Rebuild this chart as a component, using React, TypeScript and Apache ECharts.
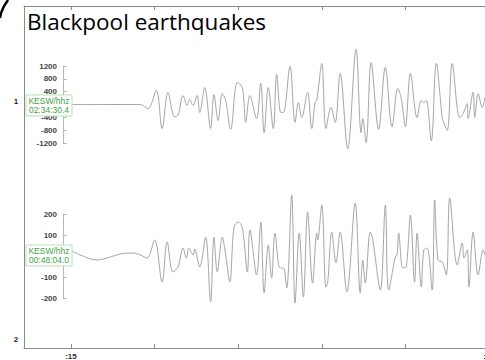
import React, { useEffect, useRef } from "react";
import * as echarts from "echarts";

// Trace 1 (KESW/hhz 02:34:30.4): time in seconds, amplitude
const t1 = [15.01,15.35,15.83,15.92,16.02,16.09,16.16,16.24,16.28,16.34,16.39,16.42,16.46,16.51,16.54,16.60,16.67,16.71,16.76,16.81,16.85,16.91,16.99,17.05,17.09,17.14,17.22,17.27,17.31,17.36,17.42,17.46,17.51,17.54,17.62,17.68,17.72,17.76,17.83,17.88,17.92,17.94,18.00,18.05,18.11,18.16,18.22,18.31,18.41,18.47,18.49,18.53,18.59,18.68,18.76,18.84,18.91,18.95,19.00,19.06,19.14,19.19,19.22,19.25,19.31,19.37,19.44,19.45,19.50,19.56,19.65,19.69,19.74,19.75,19.81,19.83,19.87,19.92,19.95];
const v1 = [0,0,0,-130,440,-750,380,-380,-340,280,-30,160,-30,280,-250,530,-750,310,-500,340,130,-780,690,530,-560,280,-440,660,-880,530,-750,940,-250,-250,1190,-560,60,-410,380,-750,60,130,1280,-750,-90,-560,970,-1380,1720,-880,-440,-1190,1310,-780,1160,-690,500,190,-690,970,-410,130,60,130,-1130,1280,-410,-500,-810,1280,-410,-280,30,-440,380,-410,340,-90,220];

// Trace 2 (KESW/hhz 00:48:04.0)
const t2 = [15.01,15.11,15.31,15.47,15.59,15.74,15.83,15.91,16.00,16.09,16.15,16.22,16.28,16.34,16.38,16.41,16.46,16.48,16.54,16.61,16.67,16.71,16.75,16.81,16.85,16.90,16.95,17.00,17.05,17.11,17.14,17.22,17.27,17.31,17.36,17.40,17.44,17.50,17.54,17.58,17.64,17.68,17.73,17.78,17.83,17.89,17.94,17.95,18.00,18.05,18.07,18.12,18.17,18.22,18.30,18.40,18.46,18.49,18.52,18.58,18.61,18.70,18.76,18.80,18.88,18.90,18.92,18.97,19.01,19.06,19.11,19.14,19.19,19.22,19.26,19.32,19.35,19.39,19.44,19.49,19.53,19.62,19.68,19.70,19.74,19.76,19.81,19.87,19.93,19.95];
const v2 = [24,5,-19,-5,10,14,5,-10,76,-124,67,-76,-52,38,-10,38,5,33,-52,90,-219,90,-76,90,5,-124,138,162,133,-76,124,-90,162,-176,52,-105,109,-57,-57,-152,290,-224,109,-195,209,-129,109,76,243,-148,-129,114,-33,114,-171,252,-176,-19,-129,114,76,-162,243,-162,-5,5,109,-57,-52,195,-124,109,-148,29,38,-162,267,-19,-29,-90,276,-43,62,-10,29,-148,114,-90,29,5];

const timeTicks = [15, 16, 17, 18, 19, 20];
const timeLabels = [15, 20];
const ampTicks1 = [-1200, -800, -400, 400, 800, 1200];
const ampTicks2 = [-200, -100, 100, 200];
const stationLabel = "KESW/hhz";
const startTimes = ["02:34:30.4", "00:48:04.0"];
const title = "Blackpool earthquakes";

export default function App() {
  const ref = useRef<HTMLDivElement>(null);
  useEffect(() => {
    if (!ref.current) return;
    const chart = echarts.init(ref.current, null, { renderer: "svg" });
    const xMin = 14.438, xMax = 20.06;
    const frameColor = "#8a8a8a";
    const traceColor = "#a6a6a6";
    const hiddenX = (gi: number) => ({ gridIndex: gi, type: "value", min: xMin, max: xMax, show: false });
    const ampAxis = (gi: number, mn: number, mx: number, iv: number, labels: number[]) => ({
      gridIndex: gi, type: "value", min: mn, max: mx, interval: iv, offset: -39,
      axisLine: { show: true, lineStyle: { color: "#b8b8b8", width: 1 } },
      axisTick: { show: true, inside: true, length: 4, lineStyle: { color: "#b8b8b8" } },
      axisLabel: {
        fontSize: 8, color: "#444", margin: 6, fontFamily: "Liberation Sans", fontWeight: "bold",
        customValues: labels, formatter: (v: number) => String(v),
      },
      splitLine: { show: false },
    });
    const box = (y: number, time: string) => ({
      type: "group", z: 100,
      children: [
        { type: "rect", shape: { x: 26, y, width: 46, height: 21 }, style: { fill: "#fff", stroke: "#b9dfb9", lineWidth: 1 }, z: 100 },
        { type: "text", x: 49, y: y + 5.5, style: { text: stationLabel, fill: "#3f9f3f", fontSize: 8.5, fontFamily: "Liberation Sans", align: "center", verticalAlign: "middle" }, z: 101 },
        { type: "text", x: 49, y: y + 15, style: { text: time, fill: "#3f9f3f", fontSize: 8.5, fontFamily: "Liberation Sans", align: "center", verticalAlign: "middle" }, z: 101 },
      ],
    });
    chart.setOption({
      animation: false,
      backgroundColor: "#fff",
      grid: [
        { left: 24, width: 470, top: 66, height: 77, outerBoundsMode: "none", containLabel: false },
        { left: 24, width: 470, top: 214, height: 84, outerBoundsMode: "none", containLabel: false },
        { left: 24, width: 470, top: 6, height: 342, outerBoundsMode: "none", containLabel: false },
      ],
      xAxis: [
        hiddenX(0),
        hiddenX(1),
        {
          gridIndex: 2, type: "value", min: xMin, max: xMax, position: "bottom",
          axisLine: { show: true, lineStyle: { color: frameColor } },
          axisTick: { show: true, inside: true, length: 4, customValues: timeTicks, lineStyle: { color: frameColor } },
          axisLabel: { show: true, customValues: timeLabels, formatter: (v: number) => ":" + Math.round(v), fontSize: 8, color: "#333", margin: 4, fontFamily: "Liberation Sans", fontWeight: "bold" },
          splitLine: { show: false },
        },
        {
          gridIndex: 2, type: "value", min: xMin, max: xMax, position: "top",
          axisLine: { show: true, lineStyle: { color: frameColor } },
          axisTick: { show: true, inside: true, length: 4, customValues: timeTicks, lineStyle: { color: frameColor } },
          axisLabel: { show: false },
          splitLine: { show: false },
        },
      ],
      yAxis: [
        ampAxis(0, -1200, 1200, 400, ampTicks1),
        ampAxis(1, -200, 200, 100, ampTicks2),
        { gridIndex: 2, type: "value", min: 0, max: 1, axisLine: { show: true, lineStyle: { color: frameColor } }, axisTick: { show: false }, axisLabel: { show: false }, splitLine: { show: false } },
      ],
      series: [
        { type: "line", xAxisIndex: 0, yAxisIndex: 0, data: t1.map((t, i) => [t, v1[i]]), showSymbol: false, smooth: 0.35, clip: false, lineStyle: { color: traceColor, width: 1 } },
        { type: "line", xAxisIndex: 1, yAxisIndex: 1, data: t2.map((t, i) => [t, v2[i]]), showSymbol: false, smooth: 0.35, clip: false, lineStyle: { color: traceColor, width: 1 } },
      ],
      graphic: [
        { type: "text", x: 27, y: 21, style: { text: title, fill: "#000", fontSize: 22.5, fontFamily: "Open Sans", verticalAlign: "middle" }, z: 100 },
        { type: "text", x: 16, y: 101, style: { text: "1", fill: "#222", fontSize: 8, fontFamily: "Liberation Sans", fontWeight: "bold", align: "center", verticalAlign: "middle" } },
        { type: "text", x: 16, y: 339, style: { text: "2", fill: "#222", fontSize: 8, fontFamily: "Liberation Sans", fontWeight: "bold", align: "center", verticalAlign: "middle" } },
        { type: "polyline", shape: { points: [[8, 0], [4, 6], [1, 13], [0, 18]] }, style: { stroke: "#000", lineWidth: 2.5, fill: "none" } },
        box(95, startTimes[0]),
        box(245, startTimes[1]),
      ],
    });
    return () => chart.dispose();
  }, []);
  return <div ref={ref} style={{ position: "absolute", left: 0, top: 0, width: 485, height: 360, background: "#fff" }} />;
}
